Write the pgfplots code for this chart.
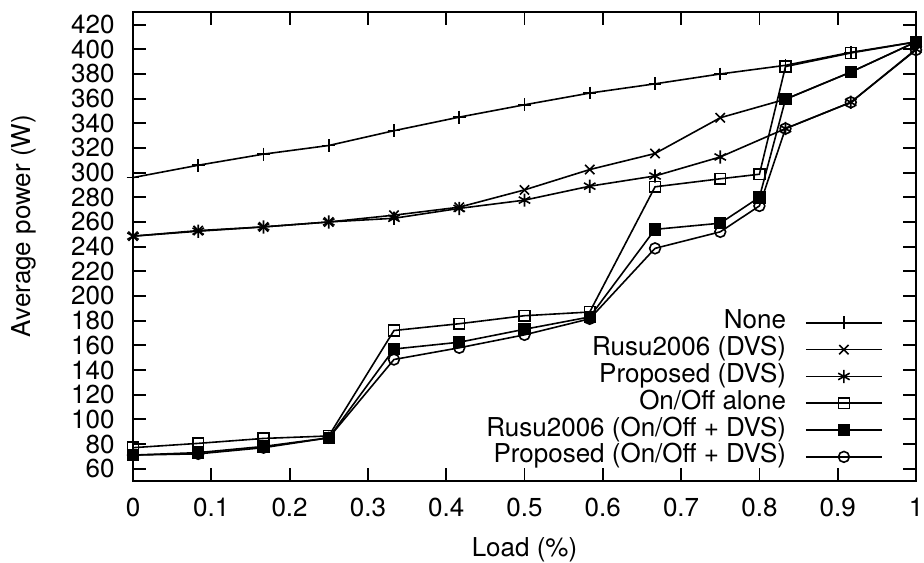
\documentclass[border=0pt]{standalone}
\usepackage{fontspec}
\setmainfont{TeX Gyre Heros}
\usepackage{pgfplots}
\pgfplotsset{compat=1.18}
\begin{document}
\fontsize{13}{15.6}\selectfont
\begin{tikzpicture}
\begin{axis}[
  scale only axis,
  width=391.5pt, height=234.35pt,
  xmin=0, xmax=1, ymin=50, ymax=430,
  xtick={0,0.1,...,1.01}, ytick={60,80,...,420},
  xticklabels={0,0.1,0.2,0.3,0.4,0.5,0.6,0.7,0.8,0.9,1},
  /pgf/number format/assume math mode=true,
  tick align=inside, tick pos=both,
  major tick length=6.5pt,
  axis line style={line width=1pt},
  every tick/.style={black, line width=0.9pt},
  tick label style={font=\fontsize{13}{15.6}\selectfont},
  xticklabel style={anchor=base, inner sep=0pt, yshift=-17.8pt},
  yticklabel style={anchor=east, inner sep=0pt, xshift=-9pt},
  xlabel={Load (\%)},
  ylabel={Average power (W)},
  xlabel style={at={(axis description cs:0.5,-0.162)}, anchor=base, inner sep=0pt},
  ylabel style={at={(axis description cs:-0.140,0.544)}, anchor=center, rotate=0, inner sep=0pt},
  every axis plot/.append style={black, line width=0.8pt, mark options={solid, line width=0.8pt}},
  legend plot pos=right,
  legend cell align=right,
  legend image code/.code={\draw[mark repeat=2,mark phase=2,#1] plot coordinates {(0pt,0pt) (19pt,0pt) (38pt,0pt)};},
  legend style={draw=none, fill=none, inner sep=0pt, at={(rel axis cs:0.958,0.022)}, anchor=south east,
    column sep=9.5pt, row sep=0pt,
    nodes={inner xsep=0pt, inner ysep=0pt, text height=9.7pt, text depth=3.7pt},
    font=\fontsize{13}{15.6}\selectfont},
]
\addplot[mark=+, mark size=3.2pt] coordinates {
(0,296) (0.0833,306) (0.1667,315) (0.25,322) (0.3333,334) (0.4167,345) (0.5,355) (0.5833,364.5) (0.6667,372) (0.75,380) (0.8333,387) (0.9167,397.5) (1,406)};
\addlegendentry{None}
\addplot[mark=x, mark size=3.3pt] coordinates {
(0,248.5) (0.0833,253) (0.1667,256) (0.25,260) (0.3333,265.5) (0.4167,272) (0.5,286) (0.5833,302.5) (0.6667,315.5) (0.75,344.5) (0.8333,359.5) (0.9167,381.5) (1,406)};
\addlegendentry{Rusu2006 (DVS)}
\addplot[mark=asterisk, mark size=3.3pt] coordinates {
(0,248.5) (0.0833,252.5) (0.1667,256) (0.25,260) (0.3333,263) (0.4167,271) (0.5,277.7) (0.5833,289) (0.6667,297.3) (0.75,312.7) (0.8333,335.7) (0.9167,357) (1,400)};
\addlegendentry{Proposed (DVS)}
\addplot[mark=square, mark size=2.7pt] coordinates {
(0,77) (0.0833,80.5) (0.1667,84.5) (0.25,86.5) (0.3333,172) (0.4167,177.5) (0.5,184) (0.5833,187) (0.6667,288.5) (0.75,295) (0.8,298.7) (0.8333,386) (0.9167,397) (1,406)};
\addlegendentry{On/Off alone}
\addplot[mark=square*, mark size=2.7pt, mark options={fill=black}] coordinates {
(0,71) (0.0833,73) (0.1667,78) (0.25,85) (0.3333,157) (0.4167,162.5) (0.5,173) (0.5833,183) (0.6667,254) (0.75,259) (0.8,280) (0.8333,359.5) (0.9167,381.5) (1,406)};
\addlegendentry{Rusu2006 (On/Off + DVS)}
\addplot[mark=o, mark size=2.7pt] coordinates {
(0,71) (0.0833,72) (0.1667,77) (0.25,85) (0.3333,148.5) (0.4167,158) (0.5,168.5) (0.5833,181.5) (0.6667,238.6) (0.75,252) (0.8,273) (0.8333,335.7) (0.9167,357) (1,399.5)};
\addlegendentry{Proposed (On/Off + DVS)}
\end{axis}
\path ([xshift=-66.5pt,yshift=-41pt]current axis.south west) rectangle ([xshift=4pt,yshift=6.15pt]current axis.north east);
\end{tikzpicture}
\end{document}
